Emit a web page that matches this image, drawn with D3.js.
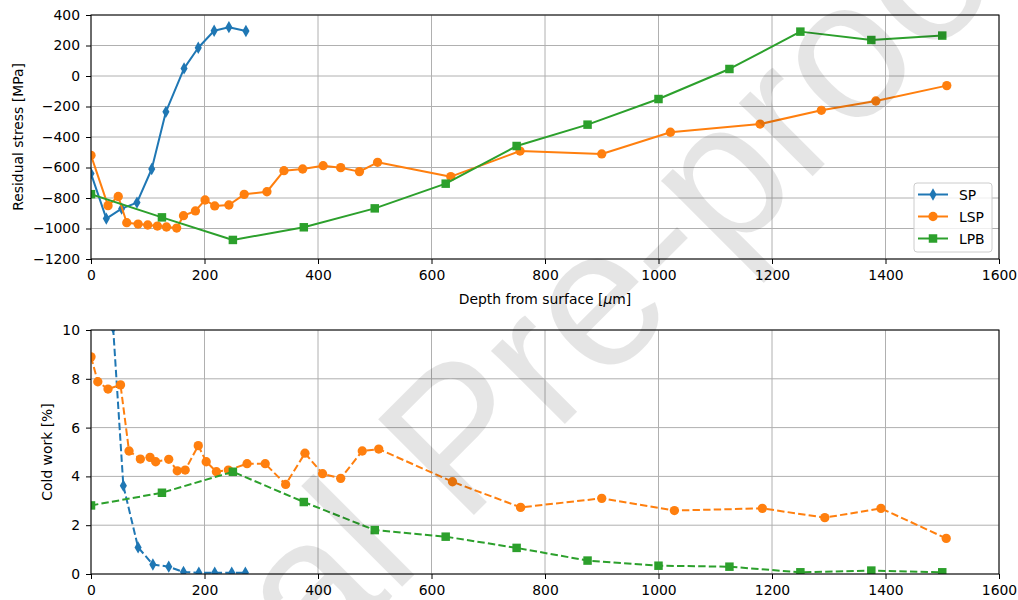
<!DOCTYPE html>
<html>
<head>
<meta charset="utf-8">
<script src="https://cdn.jsdelivr.net/npm/d3@7"></script>
<style>
  body { margin: 0; background: #fff; }
  svg { display: block; }
</style>
</head>
<body>
<svg id="chart" width="1018" height="600" font-family="DejaVu Sans"></svg>
<script>
const width = 1018;
const height = 600;
const fontSize = 13.9;

const depthTicks = [0, 200, 400, 600, 800, 1000, 1200, 1400, 1600];
const stressTicks = [-1200, -1000, -800, -600, -400, -200, 0, 200, 400];
const coldTicks = [0, 2, 4, 6, 8, 10];

// residual stress (top panel)
const spStressDepth = [0, 27, 54, 81, 107, 132, 164, 189, 217, 243, 273];
const spStress = [-640, -935, -870, -830, -610, -235, 50, 185, 297, 320, 295];

const lspStressDepth = [0, 30, 48, 63, 83, 100, 117, 133, 151, 163, 184, 201, 218, 243, 270, 310, 340, 373, 409, 440, 473, 505, 634, 756, 900, 1021, 1179, 1287, 1383, 1508];
const lspStress = [-520, -850, -790, -962, -971, -977, -984, -990, -997, -916, -885, -813, -852, -846, -776, -759, -621, -610, -588, -601, -627, -566, -660, -492, -511, -369, -315, -225, -164, -63];

const lpbStressDepth = [0, 125, 250, 375, 500, 625, 750, 875, 1000, 1125, 1250, 1375, 1500];
const lpbStress = [-775, -927, -1075, -992, -868, -706, -459, -319, -151, 46, 291, 236, 265];

// cold work (bottom panel)
const spColdDepth = [39, 57, 83, 109, 137, 163, 190, 218, 248, 272];
const spCold = [10.1, 3.62, 1.09, 0.39, 0.30, 0.08, 0.05, 0.05, 0.05, 0.05];

const lspColdDepth = [0, 12, 30, 52, 67, 87, 104, 114, 137, 152, 166, 189, 203, 221, 242, 275, 307, 343, 377, 408, 440, 478, 507, 637, 757, 900, 1028, 1183, 1293, 1392, 1507];
const lspCold = [8.9, 7.88, 7.58, 7.75, 5.04, 4.71, 4.78, 4.6, 4.7, 4.23, 4.26, 5.26, 4.6, 4.19, 4.26, 4.52, 4.52, 3.67, 4.95, 4.11, 3.92, 5.04, 5.12, 3.78, 2.73, 3.1, 2.6, 2.69, 2.31, 2.69, 1.46];

const lpbColdDepth = [0, 125, 250, 375, 500, 625, 750, 875, 1000, 1125, 1250, 1375, 1500];
const lpbCold = [2.81, 3.33, 4.19, 2.95, 1.80, 1.53, 1.07, 0.55, 0.34, 0.30, 0.07, 0.14, 0.07];

const names = ["SP", "LSP", "LPB"];
const colors = ["#1f77b4", "#ff7f0e", "#2ca02c"];
const shapes = [
  d3.symbol(d3.symbolDiamond, 44),
  d3.symbol(d3.symbolCircle, 68),
  d3.symbol(d3.symbolSquare, 72)
];

const zip = (xs, ys) => xs.map((d, i) => [d, ys[i]]);

const x = d3.scaleLinear().domain([0, 1600]).range([91, 999]);
const yStress = d3.scaleLinear().domain([-1200, 400]).range([259, 15]);
const yCold = d3.scaleLinear().domain([0, 10]).range([574, 330]);

const svg = d3.select("#chart");
svg.append("rect").attr("width", width).attr("height", height).attr("fill", "#fff");

const panel = (id, y, yTicks, series, dash) => {
  const [y0, y1] = y.range();
  const g = svg.append("g");

  g.append("clipPath").attr("id", id)
    .append("rect")
    .attr("x", x(0)).attr("y", y1)
    .attr("width", x(1600) - x(0)).attr("height", y0 - y1);

  // grid
  g.append("g").selectAll("line")
    .data(depthTicks)
    .join("line")
    .attr("x1", d => x(d)).attr("x2", d => x(d))
    .attr("y1", y1).attr("y2", y0)
    .attr("stroke", "#b0b0b0").attr("stroke-width", 1);
  g.append("g").selectAll("line")
    .data(yTicks)
    .join("line")
    .attr("x1", x(0)).attr("x2", x(1600))
    .attr("y1", d => y(d)).attr("y2", d => y(d))
    .attr("stroke", "#b0b0b0").attr("stroke-width", 1);

  const plot = g.append("g").attr("clip-path", `url(#${id})`);
  const line = d3.line().x(d => x(d[0])).y(d => y(d[1]));

  series.forEach((pts, i) => {
    plot.append("path")
      .attr("d", line(pts))
      .attr("fill", "none")
      .attr("stroke", colors[i])
      .attr("stroke-width", 2)
      .attr("stroke-dasharray", dash)
      .attr("stroke-linejoin", "round");
    plot.append("g").selectAll("path")
      .data(pts)
      .join("path")
      .attr("transform", d => `translate(${x(d[0])},${y(d[1])})`)
      .attr("d", shapes[i])
      .attr("fill", colors[i]);
  });

  // spines
  g.append("rect")
    .attr("x", x(0)).attr("y", y1)
    .attr("width", x(1600) - x(0)).attr("height", y0 - y1)
    .attr("fill", "none").attr("stroke", "#000").attr("stroke-width", 1);

  const fmt = d3.format("d");
  const xAxis = g.append("g")
    .attr("transform", `translate(0,${y0})`)
    .call(d3.axisBottom(x).tickValues(depthTicks).tickFormat(fmt).tickSize(5).tickPadding(6).tickSizeOuter(0));
  const yAxis = g.append("g")
    .attr("transform", `translate(${x(0)},0)`)
    .call(d3.axisLeft(y).tickValues(yTicks).tickFormat(fmt).tickSize(5).tickPadding(6).tickSizeOuter(0));

  [xAxis, yAxis].forEach(a => {
    a.select(".domain").remove();
    a.attr("font-family", "DejaVu Sans").attr("font-size", fontSize);
    a.selectAll("text").attr("fill", "#000");
    a.selectAll("line").attr("stroke", "#000");
  });
  return g;
};

panel("clipTop", yStress, stressTicks, [
  zip(spStressDepth, spStress),
  zip(lspStressDepth, lspStress),
  zip(lpbStressDepth, lpbStress)
], null);

panel("clipBottom", yCold, coldTicks, [
  zip(spColdDepth, spCold),
  zip(lspColdDepth, lspCold),
  zip(lpbColdDepth, lpbCold)
], "7.4,3.2");

// axis labels
const xLabel = svg.append("text")
  .attr("x", (x(0) + x(1600)) / 2).attr("y", 303.5)
  .attr("text-anchor", "middle").attr("font-size", fontSize);
xLabel.append("tspan").text("Depth from surface [");
xLabel.append("tspan").attr("font-style", "italic").text("μ");
xLabel.append("tspan").text("m]");

svg.append("text")
  .attr("transform", `translate(23,${(yStress.range()[0] + yStress.range()[1]) / 2}) rotate(-90)`)
  .attr("text-anchor", "middle").attr("font-size", fontSize)
  .text("Residual stress [MPa]");

svg.append("text")
  .attr("transform", `translate(52,${(yCold.range()[0] + yCold.range()[1]) / 2}) rotate(-90)`)
  .attr("text-anchor", "middle").attr("font-size", fontSize)
  .text("Cold work [%]");

// legend
const legend = svg.append("g").attr("transform", "translate(914,183)");
legend.append("rect")
  .attr("width", 78).attr("height", 69).attr("rx", 3)
  .attr("fill", "#fff").attr("fill-opacity", 0.8)
  .attr("stroke", "#ccc").attr("stroke-width", 1);
names.forEach((name, i) => {
  const row = legend.append("g").attr("transform", `translate(0,${11.5 + i * 22})`);
  row.append("line").attr("x1", 4).attr("x2", 34)
    .attr("stroke", colors[i]).attr("stroke-width", 2);
  row.append("path").attr("transform", "translate(19,0)").attr("d", shapes[i]).attr("fill", colors[i]);
  row.append("text").attr("x", 45).attr("y", 5).attr("font-size", fontSize).text(name);
});

// watermark
svg.append("text")
  .attr("transform", "translate(505,484) rotate(-45)")
  .attr("text-anchor", "middle")
  .attr("font-family", "Liberation Sans")
  .attr("font-size", 197)
  .attr("fill", "#000").attr("fill-opacity", 0.1)
  .text("Journal Pre-proof");
</script>
</body>
</html>
